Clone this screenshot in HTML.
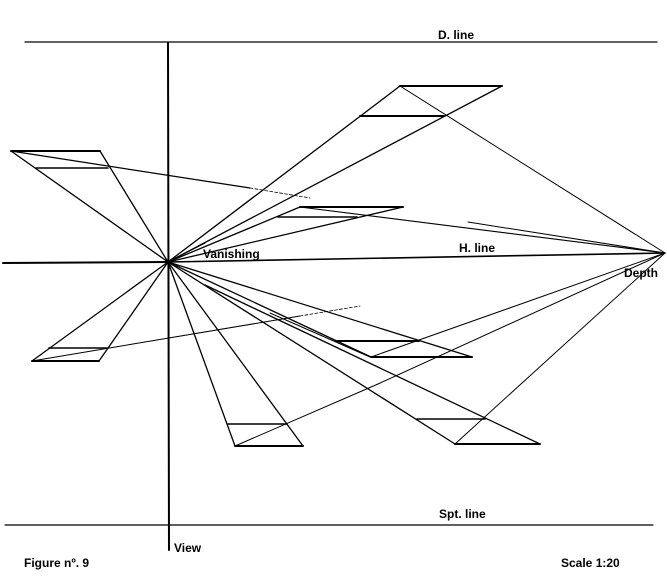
<!DOCTYPE html>
<html><head><style>
html,body{margin:0;padding:0;background:#fff;}
svg{display:block;}
text{font-family:"Liberation Sans","DejaVu Sans",sans-serif;font-size:12px;font-weight:bold;fill:#000;}
</style></head><body>
<svg width="667" height="582" viewBox="0 0 667 582" xmlns="http://www.w3.org/2000/svg">
<g stroke="#000" fill="none" stroke-linecap="round">
<!-- frame lines -->
<line x1="25" y1="42" x2="657" y2="42" stroke-width="1.2"/>
<line x1="5" y1="525" x2="653" y2="525" stroke-width="1.2"/>
<line x1="168" y1="43" x2="169" y2="550" stroke-width="2"/>
<line x1="3" y1="263" x2="168" y2="262" stroke-width="2"/>
<line x1="168" y1="262" x2="665" y2="253" stroke-width="1.6"/>
<circle cx="168" cy="262" r="2.5" fill="#000" stroke="none"/>

<!-- top right shape -->
<line x1="400" y1="86" x2="502" y2="86" stroke-width="2"/>
<line x1="360" y1="116" x2="444" y2="116" stroke-width="2"/>
<line x1="168" y1="262" x2="400" y2="86" stroke-width="1.3"/>
<line x1="168" y1="262" x2="502" y2="86" stroke-width="1.3"/>
<line x1="400" y1="86" x2="665" y2="253" stroke-width="1"/>

<!-- upper left shape -->
<line x1="11" y1="151" x2="100" y2="151" stroke-width="2"/>
<line x1="36" y1="168" x2="108" y2="168" stroke-width="1.6"/>
<line x1="168" y1="262" x2="11" y2="151" stroke-width="1.3"/>
<line x1="168" y1="262" x2="100" y2="151" stroke-width="1.3"/>
<line x1="11" y1="151" x2="250" y2="188" stroke-width="1.2"/>
<line x1="250" y1="188" x2="310" y2="198" stroke-width="0.8" stroke-dasharray="3,2"/>
<line x1="468" y1="222" x2="665" y2="253" stroke-width="1"/>

<!-- middle upper shape -->
<line x1="300" y1="207" x2="403" y2="207" stroke-width="2"/>
<line x1="278" y1="217" x2="357" y2="217" stroke-width="1.6"/>
<line x1="168" y1="262" x2="300" y2="207" stroke-width="1.3"/>
<line x1="168" y1="262" x2="403" y2="207" stroke-width="1.3"/>
<line x1="300" y1="207" x2="665" y2="253" stroke-width="1.1"/>
<line x1="168" y1="262" x2="205" y2="243" stroke-width="1"/>

<!-- lower left shape -->
<line x1="32" y1="361" x2="99" y2="361" stroke-width="2"/>
<line x1="49" y1="348" x2="107" y2="348" stroke-width="1.6"/>
<line x1="168" y1="262" x2="32" y2="361" stroke-width="1.3"/>
<line x1="168" y1="262" x2="99" y2="361" stroke-width="1.3"/>
<line x1="32" y1="361" x2="300" y2="316" stroke-width="1"/>
<line x1="300" y1="316" x2="360" y2="306" stroke-width="0.8" stroke-dasharray="3,2"/>

<!-- bottom center shape -->
<line x1="235" y1="446" x2="303" y2="446" stroke-width="2"/>
<line x1="228" y1="424" x2="287" y2="424" stroke-width="1.6"/>
<line x1="168" y1="262" x2="235" y2="446" stroke-width="1.3"/>
<line x1="168" y1="262" x2="303" y2="446" stroke-width="1.3"/>
<line x1="235" y1="446" x2="378" y2="384" stroke-width="1"/>
<line x1="378" y1="384" x2="665" y2="253" stroke-width="1"/>

<!-- center right shape -->
<line x1="336" y1="341" x2="419" y2="341" stroke-width="2"/>
<line x1="371" y1="357" x2="472" y2="357" stroke-width="2"/>
<line x1="168" y1="262" x2="371" y2="357" stroke-width="1.3"/>
<line x1="168" y1="262" x2="472" y2="357" stroke-width="1.3"/>
<line x1="371" y1="357" x2="665" y2="253" stroke-width="1"/>
<line x1="270" y1="313" x2="370" y2="357" stroke-width="1"/>

<!-- far right bottom shape -->
<line x1="455" y1="444" x2="540" y2="444" stroke-width="2"/>
<line x1="417" y1="419" x2="485" y2="419" stroke-width="1.6"/>
<line x1="168" y1="262" x2="455" y2="444" stroke-width="1.3"/>
<line x1="205" y1="285" x2="540" y2="444" stroke-width="1.3"/>
<line x1="455" y1="444" x2="665" y2="253" stroke-width="1"/>
</g>
<text x="438" y="39">D. line</text>
<text x="459" y="252">H. line</text>
<text x="203" y="258">Vanishing</text>
<text x="624" y="277">Depth</text>
<text x="439" y="518">Spt. line</text>
<text x="174" y="552">View</text>
<text x="24" y="567">Figure nº. 9</text>
<text x="561" y="567">Scale 1:20</text>
</svg>
</body></html>
